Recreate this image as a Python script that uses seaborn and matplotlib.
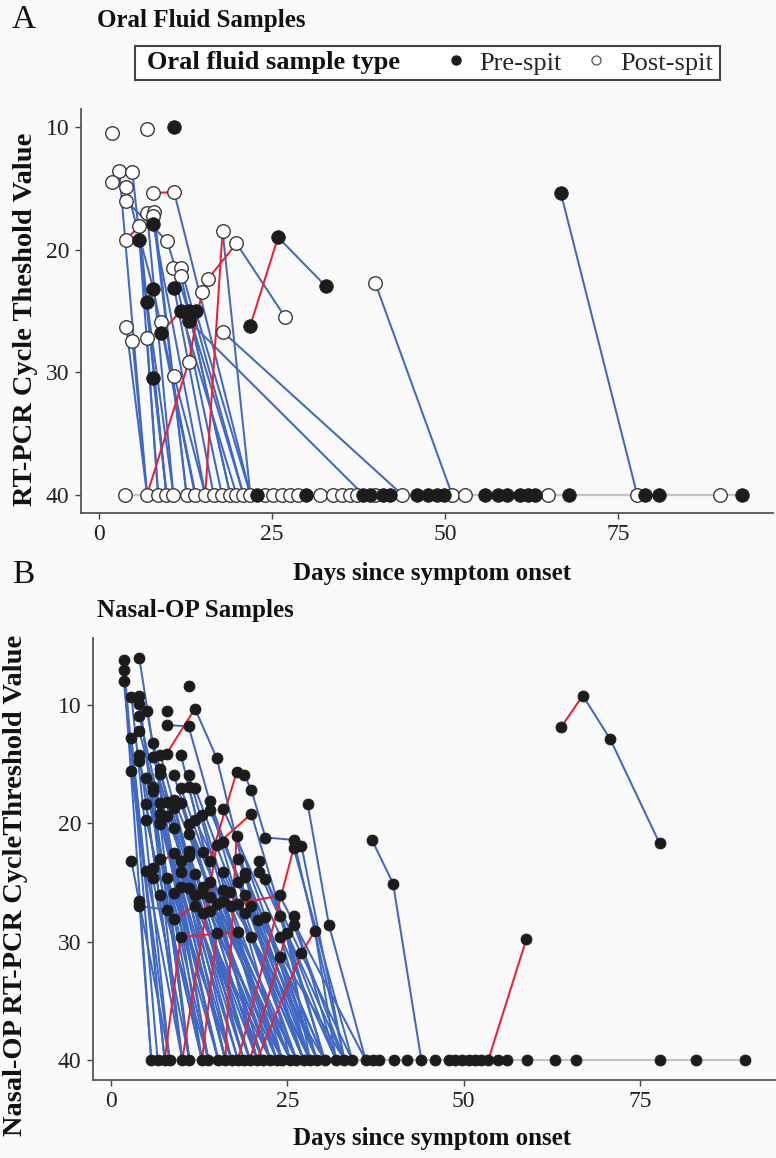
import numpy as np
import pandas as pd
import matplotlib
matplotlib.use("Agg")
import matplotlib.pyplot as plt
import seaborn as sns
from matplotlib.lines import Line2D
from matplotlib.patches import Rectangle

sns.set_theme(style="white")
plt.rcParams['font.family'] = ['Liberation Serif', 'DejaVu Serif']

NA = None

# ---------------- Panel A: oral fluid (detected samples) ----------------
a_det_day = [1.9, 7.0, 10.9, 3.0, 4.9, 1.9, 4.0, 7.9, 10.9, 3.9, 7.0, 8.0, 7.9, 7.9, 5.9, 3.9, 5.9,
             9.9, 17.9, 19.9, 25.9, 32.8, 21.9, 26.9, 10.8, 11.9, 11.9, 15.8, 14.9, 7.9, 10.9, 7.0,
             11.9, 13.0, 14.0, 13.0, 9.0, 9.0, 4.0, 4.9, 7.0, 17.9, 13.0, 7.9, 10.9, 39.9, 66.7]
a_det_ct = [10.5, 10.2, 10.0, 13.6, 13.7, 14.5, 14.9, 15.4, 15.3, 16.0, 17.0, 16.9, 17.3, 17.9, 18.1, 19.2, 19.2,
            19.3, 18.5, 19.5, 19.0, 23.0, 26.2, 25.5, 21.5, 21.5, 22.2, 22.4, 23.5, 23.2, 23.1, 24.3,
            25.0, 25.0, 25.0, 25.8, 25.9, 26.8, 26.3, 27.5, 27.2, 26.7, 29.2, 30.5, 30.3, 22.7, 15.4]
a_det_type = ['Post', 'Post', 'Pre', 'Post', 'Post', 'Post', 'Post', 'Post', 'Post', 'Post', 'Post', 'Post', 'Post', 'Pre', 'Post', 'Post', 'Pre',
              'Post', 'Post', 'Post', 'Pre', 'Pre', 'Pre', 'Post', 'Post', 'Post', 'Post', 'Post', 'Post', 'Pre', 'Pre', 'Pre',
              'Pre', 'Pre', 'Pre', 'Pre', 'Post', 'Pre', 'Post', 'Post', 'Post', 'Post', 'Post', 'Pre', 'Post', 'Post', 'Pre']
a_det_next_day = [NA, NA, NA, 7.0, 9.8, NA, 7.9, 10.9, 21.9, 9.9, 10.8, 12.7, 12.7, 15.4, 9.8, 5.9, 8.6,
                  20.9, 21.9, 26.9, 32.8, NA, 25.9, NA, 17.8, 20.9, 19.0, 19.9, 15.8, 13.9, 16.6, 10.8,
                  19.9, 19.0, 21.9, 38.2, 14.0, 11.9, 7.0, 7.0, 8.6, 43.8, 14.9, 9.8, 15.4, 51.0, 77.7]
a_det_next_ct = [NA, NA, NA, 40, 40, NA, 23.2, 15.3, 40, 19.3, 40, 40, 40, 40, 40, 18.1, 40,
                 40, 40, 25.5, 23.0, NA, 19.0, NA, 40, 40, 40, 19.5, 22.4, 40, 40, 40,
                 40, 40, 40, 40, 40, 25.0, 40, 40, 40, 40, 23.5, 40, 40, 40, 40]

# ---------------- Panel A: oral fluid (non-detects, plotted at Ct 40) ----------------
a_nd_day = [3.8, 7.0, 8.6, 9.8, 10.8, 12.7, 13.9, 15.4, 16.6, 17.8, 19.0, 19.9, 20.9, 21.9, 24.0, 25.2,
            26.4, 27.6, 28.8, 31.9, 33.8, 35.1, 36.3, 37.3, 39.9, 43.8, 51.0, 52.9, 64.9, 77.7, 89.7,
            22.8, 30.0, 38.2, 39.2, 41.1, 42.1, 45.9, 47.6, 48.8, 49.8, 55.8, 57.7, 58.9, 60.8, 62.0,
            63.0, 67.8, 78.9, 80.8, 92.8]
a_nd_type = ['Post'] * 31 + ['Pre'] * 20
a_nd_next_day = [NA, 13.0, NA, NA, NA, NA, NA, 17.9] + [NA] * 43
a_nd_next_ct = [NA, 29.2, NA, NA, NA, NA, NA, 18.5] + [NA] * 43

# ---------------- Panel B: nasal-OP (detected samples) ----------------
b_det_day = [1.8, 4.0, 1.8, 1.8, 2.9, 4.0, 4.0, 5.1, 4.0, 11.0, 7.9, 11.9, 7.9, 11.0, 4.0, 2.9, 6.0, 4.0,
             4.0, 6.0, 7.0, 7.9, 9.9, 15.0, 2.9, 5.0, 7.0, 7.0, 5.9, 5.9, 8.9, 11.0, 9.9, 11.0, 11.9,
             17.8, 18.9, 19.9, 5.0, 7.0, 7.0, 7.9, 8.9, 9.9, 14.0, 8.9, 11.9, 12.9, 14.0, 15.9, 5.0,
             7.0, 7.0, 7.9, 8.9, 11.0, 11.0, 19.9, 21.9, 25.9, 25.9, 27.0, 27.9, 15.0, 15.9, 17.8,
             11.0, 13.0, 7.0, 8.9, 9.9, 11.0, 14.0, 2.9, 5.0, 5.9, 5.9, 7.9, 9.9, 11.9, 15.9, 18.0,
             21.0, 21.0, 21.9, 19.0, 19.0, 18.0, 14.0, 13.0, 11.0, 9.9, 11.9, 12.9, 14.0, 15.0, 15.9,
             16.9, 18.0, 19.0, 19.9, 23.9, 7.0, 8.9, 4.0, 4.0, 7.9, 8.9, 11.9, 13.0, 14.0, 15.9, 17.0,
             19.0, 20.9, 21.9, 23.9, 25.9, 25.9, 30.9, 28.9, 15.0, 18.0, 19.9, 24.0, 24.9, 23.9, 27.0,
             9.9, 37.0, 40.0, 58.9, 63.8, 66.9, 70.8, 77.8]
b_det_ct = [6.2, 6.0, 7.0, 8.0, 9.3, 9.2, 9.9, 10.5, 10.9, 8.4, 10.5, 10.3, 11.7, 11.8, 12.2, 12.8, 13.2, 14.2,
            14.7, 14.4, 14.2, 14.1, 14.2, 14.5, 15.6, 16.2, 15.4, 15.8, 16.9, 17.3, 15.9, 15.9, 17.0, 16.9, 17.0,
            15.7, 15.9, 17.2, 18.4, 18.3, 19.2, 18.2, 18.0, 18.3, 18.1, 18.7, 19.7, 19.3, 18.9, 18.8, 19.7,
            19.9, 20.1, 19.4, 20.4, 20.1, 20.9, 19.2, 21.2, 21.4, 22.1, 21.9, 18.4, 21.8, 21.6, 21.1,
            22.3, 22.4, 23.0, 22.5, 23.2, 22.8, 23.2, 23.2, 24.0, 23.8, 24.6, 24.6, 24.1, 24.3, 24.1, 23.0,
            23.2, 24.1, 24.7, 24.2, 24.5, 25.0, 25.0, 25.4, 25.5, 25.4, 26.1, 25.9, 26.2, 26.8, 25.6,
            25.8, 26.8, 26.1, 27.0, 26.1, 26.1, 25.9, 26.6, 27.0, 27.3, 28.1, 27.0, 27.6, 27.4, 26.6, 27.0,
            27.6, 28.2, 27.9, 27.8, 27.8, 28.6, 28.6, 29.1, 29.3, 29.2, 29.6, 29.6, 29.3, 31.3, 31.0,
            29.6, 21.4, 25.1, 29.8, 11.9, 9.2, 12.9, 21.7]
b_det_next_day = [6.6, 12.9, 5.7, 7.6, 8.3, 10.1, 11.1, 13.8, 15.2, NA, NA, 15.0, 11.0, 24.3, 16.2, 7.6, 17.1, 10.1,
                  13.8, 18.0, 18.8, 11.9, 20.7, 25.4, 8.3, 12.9, 16.2, 19.7, 15.2, 11.1, 21.5, 22.6, 23.5, 20.7, 26.3,
                  18.9, 19.9, 21.9, 10.1, 13.8, 17.1, 19.7, 24.3, 21.5, 27.3, 18.8, 28.2, 23.5, 29.2, 31.9, 12.9,
                  15.2, 11.1, 20.7, 16.2, 25.4, 22.6, 30.3, 25.9, 33.1, 34.2, 33.1, 30.9, 19.9, 28.2, 29.2,
                  19.7, 24.3, 17.1, 18.0, 21.5, 23.5, 17.8, 8.3, 10.1, 8.9, 11.1, 15.2, 19.7, 22.6, 27.3, 30.3,
                  31.9, 33.1, 34.2, 29.2, 28.2, 27.3, 24.3, 20.7, 18.8, 16.2, 21.5, 22.6, 25.4, 26.3, 30.3,
                  28.2, 23.9, 29.2, 33.1, 36.1, 13.8, 17.1, 5.7, 7.9, 12.9, 11.9, 22.6, 19.7, 20.7, 24.3, 25.4,
                  26.3, 27.3, 28.2, 30.3, 31.9, 33.1, 36.1, 31.9, 24.3, 26.3, 27.3, 29.2, 28.2, 30.3, 28.9,
                  18.0, 40.0, 44.0, NA, 66.9, 70.8, 77.8, NA]
b_det_next_ct = [40, 40, 40, 40, 40, 40, 40, 40, 40, NA, NA, 14.5, 11.8, 40, 40, 40, 40, 40,
                 40, 40, 40, 10.3, 40, 40, 40, 40, 40, 40, 40, 40, 40, 40, 40, 40, 40,
                 15.9, 17.2, 21.2, 40, 40, 40, 40, 40, 40, 40, 40, 40, 40, 40, 40, 40,
                 40, 40, 40, 40, 40, 40, 40, 21.4, 40, 40, 40, 28.6, 19.2, 40, 40,
                 40, 40, 40, 40, 40, 40, 15.7, 40, 40, 22.5, 40, 40, 40, 40, 40, 40,
                 40, 40, 40, 40, 40, 40, 40, 40, 40, 40, 40, 40, 40, 40, 40,
                 40, 26.1, 40, 40, 40, 40, 40, 40, 27.3, 40, 27.0, 40, 40, 40, 40, 40,
                 40, 40, 40, 40, 40, 40, 40, 40, 40, 40, 40, 40, 40, 40, 29.1,
                 29.2, 25.1, 40, NA, 9.2, 12.9, 21.7, NA]

# ---------------- Panel B: nasal-OP (non-detects, plotted at Ct 40) ----------------
b_nd_day = [5.7, 6.6, 7.6, 8.3, 10.1, 11.1, 12.9, 13.8, 15.2, 16.2, 17.1, 18.0, 18.8, 19.7, 20.7, 21.5,
            22.6, 23.5, 24.3, 25.4, 26.3, 27.3, 28.2, 29.2, 30.3, 31.9, 33.1, 34.2, 36.1, 37.1, 38.0,
            40.1, 42.0, 44.0, 46.0, 47.9, 48.8, 49.8, 50.7, 51.6, 52.4, 53.5, 54.9, 56.1, 59.0, 63.0,
            65.9, 77.9, 83.0, 89.9]
b_nd_next_day = [NA, NA, 9.9, NA, 15.0, NA, 15.0, NA, NA, 17.8, NA, 25.9, NA, 24.9, 27.0] + [NA] * 26 + \
                [58.9] + [NA] * 8
b_nd_next_ct = [NA, NA, 29.6, NA, 21.8, NA, 29.3, NA, NA, 21.1, NA, 22.1, NA, 29.3, 31.0] + [NA] * 26 + \
               [29.8] + [NA] * 8

ND_CT = 40
BG = '#fafafa'
BLUE = '#3f68c4'
RED = '#ee2030'
GRAY = '#c4c4c4'
DARK = '#1c1c1c'
W, H = 776, 1158


def build_segments(day, ct, nday, nct):
    rows = []
    k = 0
    for d, c, nd, nc in zip(day, ct, nday, nct):
        if nd is None:
            continue
        direction = 'rise' if nc > c else ('fall' if nc < c else 'flat')
        rows.append((k, d, c, direction))
        rows.append((k, nd, nc, direction))
        k += 1
    return pd.DataFrame(rows, columns=['seg', 'day', 'ct', 'dir'])


def draw_panel(ax, det_day, det_ct, det_type, det_nd, det_nc, nd_day, nd_type, nd_nd, nd_nc, msize):
    nd_ct = [ND_CT] * len(nd_day)
    base = pd.DataFrame({'day': sorted(nd_day), 'ct': ND_CT})
    sns.lineplot(data=base, x='day', y='ct', color=GRAY, lw=1.6, sort=False,
                 estimator=None, ax=ax, zorder=1)
    seg = pd.concat([build_segments(det_day, det_ct, det_nd, det_nc),
                     build_segments(nd_day, nd_ct, nd_nd, nd_nc).assign(seg=lambda d: d.seg + 10000)])
    sns.lineplot(data=seg, x='day', y='ct', units='seg', estimator=None, hue='dir',
                 palette={'rise': BLUE, 'fall': RED, 'flat': GRAY}, sort=False,
                 legend=False, lw=1.45, ax=ax, zorder=2)
    pts = pd.DataFrame({'day': list(det_day) + list(nd_day),
                        'ct': list(det_ct) + nd_ct,
                        'type': list(det_type) + list(nd_type)})
    post = pts[pts.type == 'Post']
    pre = pts[pts.type == 'Pre']
    if len(post):
        sns.scatterplot(data=post, x='day', y='ct', s=msize, color='white', edgecolor='#3a3a3a',
                        linewidth=1.0, ax=ax, zorder=3, legend=False)
    sns.scatterplot(data=pre, x='day', y='ct', s=msize, color=DARK, edgecolor=DARK,
                    linewidth=0.6, ax=ax, zorder=4, legend=False)


def fx(px):
    return px / W


def fy(py):
    return 1 - py / H


fig = plt.figure(figsize=(W / 100, H / 100), dpi=100, facecolor=BG)
axA = fig.add_axes([fx(80.5), fy(513), (773 - 80.5) / W, (513 - 108.6) / H])
axB = fig.add_axes([fx(92.7), fy(1080), (776 - 92.7) / W, (1080 - 637.6) / H])

draw_panel(axA, a_det_day, a_det_ct, a_det_type, a_det_next_day, a_det_next_ct,
           a_nd_day, a_nd_type, a_nd_next_day, a_nd_next_ct, msize=95)
b_det_type = ['Pre'] * len(b_det_day)
b_nd_type = ['Pre'] * len(b_nd_day)
draw_panel(axB, b_det_day, b_det_ct, b_det_type, b_det_next_day, b_det_next_ct,
           b_nd_day, b_nd_type, b_nd_next_day, b_nd_next_ct, msize=62)

axA.set_xlim(-2.6, 97.3)
axA.set_ylim(41.5, 8.5)
axB.set_xlim(-2.6, 94.3)
axB.set_ylim(41.7, 4.3)

for ax in (axA, axB):
    ax.set_facecolor(BG)
    ax.set_xticks([0, 25, 50, 75])
    ax.set_yticks([10, 20, 30, 40])
    ax.tick_params(axis='both', labelsize=17, length=4, width=1, color='#444444', pad=4,
                   bottom=True, left=True, labelcolor='#222222')
    for s in ('top', 'right'):
        ax.spines[s].set_visible(False)
    for s in ('left', 'bottom'):
        ax.spines[s].set_color('#555555')
        ax.spines[s].set_linewidth(1.3)

xlab = dict(fontsize=18, fontweight='bold', color='#111111')
ylab = dict(fontsize=20.5, fontweight='bold', color='#111111')
axA.set_xlabel('Days since symptom onset', **xlab)
axA.set_ylabel('RT-PCR Cycle Theshold Value', **ylab)
axB.set_xlabel('Days since symptom onset', **xlab)
axB.set_ylabel('Nasal-OP RT-PCR CycleThreshold Value', **ylab)
axA.xaxis.set_label_coords((432 - 80.5) / (773 - 80.5), -(562 - 513) / (513 - 108.6))
axA.yaxis.set_label_coords(-(80.5 - 38) / (773 - 80.5), 0.48)
axB.xaxis.set_label_coords((432 - 92.7) / (776 - 92.7), -(1127 - 1080) / (1080 - 637.6))
axB.yaxis.set_label_coords(-(92.7 - 28) / (776 - 92.7), 0.44)

fig.text(fx(12), fy(20), 'A', fontsize=24, va='center', ha='left', color='#111111')
fig.text(fx(97), fy(20), 'Oral Fluid Samples', fontsize=18, fontweight='bold',
         va='center', ha='left', color='#111111')
fig.text(fx(12), fy(575), 'B', fontsize=24, va='center', ha='left', color='#111111')
fig.text(fx(97), fy(610), 'Nasal-OP Samples', fontsize=18, fontweight='bold',
         va='center', ha='left', color='#111111')

# legend box for panel A (title inline, as in the original)
fig.patches.append(Rectangle((fx(135), fy(80)), (720 - 135) / W, (80 - 46) / H,
                             transform=fig.transFigure, facecolor='white',
                             edgecolor='#444444', linewidth=1.5, zorder=0))
fig.text(fx(147), fy(63), 'Oral fluid sample type', fontsize=19, fontweight='bold',
         va='center', ha='left', color='#111111')
handles = [Line2D([], [], marker='o', linestyle='none', markersize=6.5, markerfacecolor=DARK,
                  markeredgecolor=DARK),
           Line2D([], [], marker='o', linestyle='none', markersize=6.5, markerfacecolor='white',
                  markeredgecolor='#555555', markeredgewidth=0.9)]
leg = fig.legend(handles, ['Pre-spit', 'Post-spit'], loc='center left',
                 bbox_to_anchor=(fx(448), fy(63)), ncol=2, frameon=False,
                 fontsize=19, handlelength=0.6, handletextpad=0.6, columnspacing=1.0,
                 borderpad=0.0, borderaxespad=0.0)

fig.savefig('out.png', dpi=100, facecolor=BG)
